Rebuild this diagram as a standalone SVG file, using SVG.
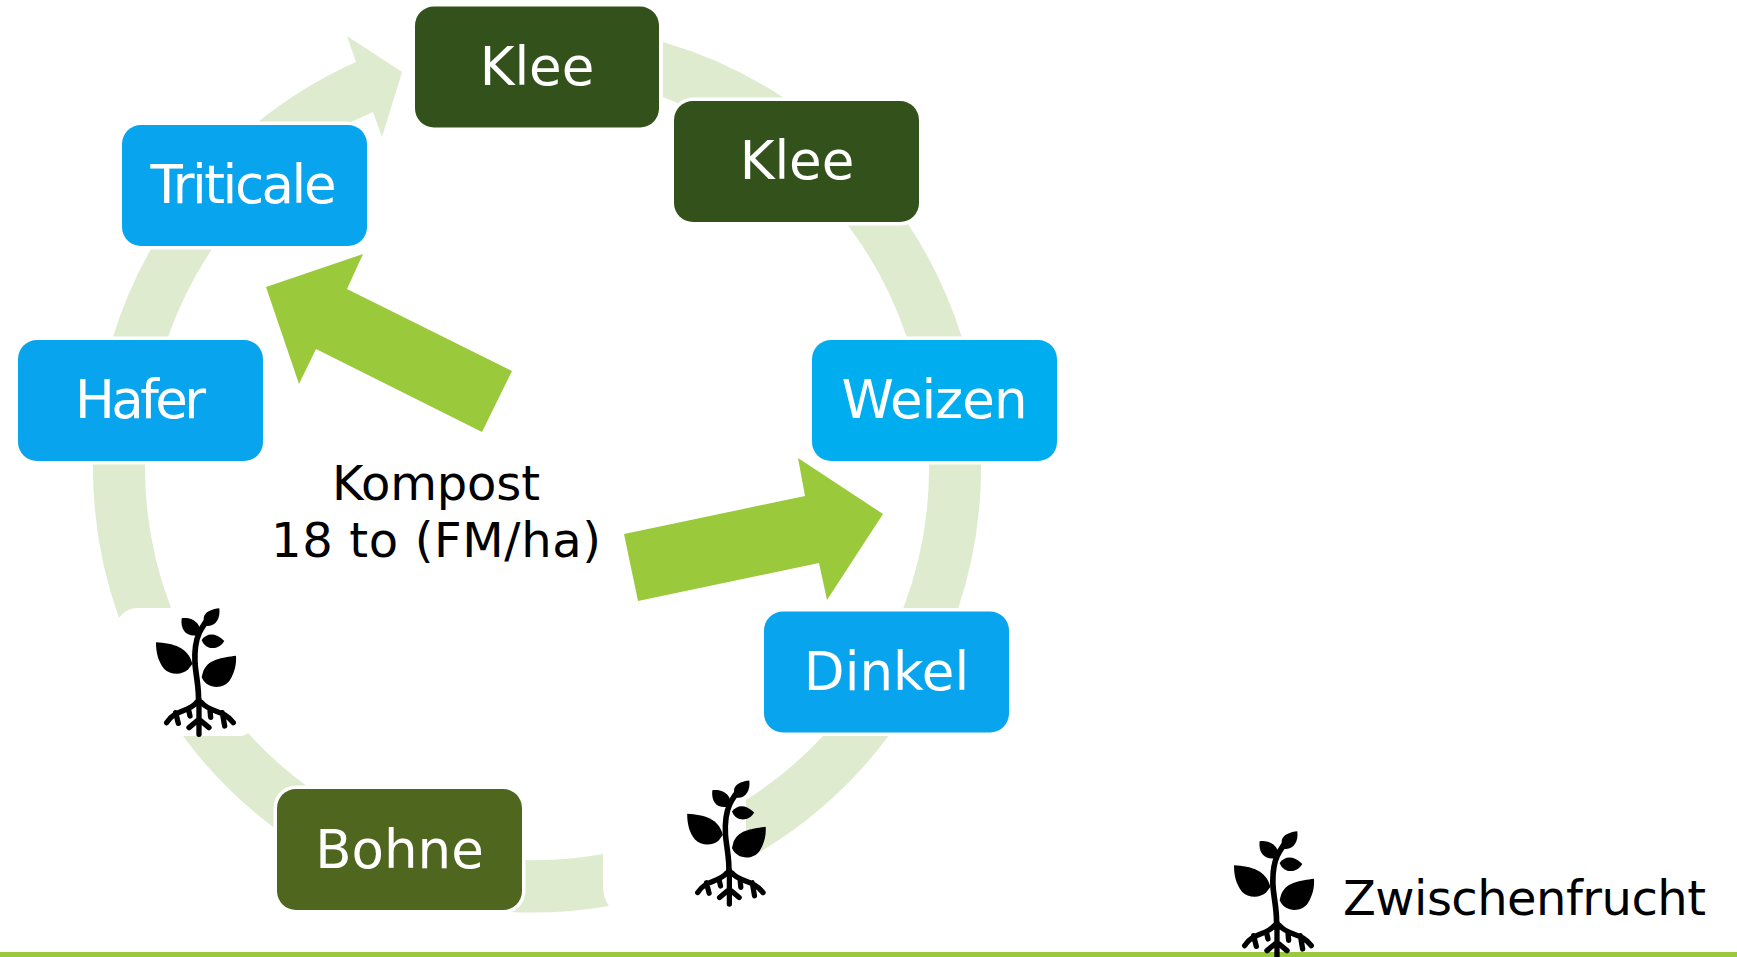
<svg xmlns="http://www.w3.org/2000/svg" width="1737" height="957" viewBox="0 0 1737 957">
<style>
.seg{fill:#DEEBCF}
.big{fill:#9ACA3C}
.n{stroke:#fff;stroke-width:7;paint-order:stroke}
.t{font-family:"DejaVu Sans",Verdana,sans-serif;font-size:53px;fill:#fff;text-anchor:middle}
.k{font-family:"DejaVu Sans",Verdana,sans-serif;font-size:48px;fill:#000}
.s{fill:none;stroke:#000;stroke-linecap:round;stroke-linejoin:round}
</style>
<defs>
<g id="plant">
<path d="M437 197C422 170 435 150 478 145C482 178 465 202 437 197Z"/>
<path d="M365 175C400 170 428 195 418 224C385 234 360 215 365 175Z"/>
<path d="M425 240C440 220 465 216 493 243C478 270 438 274 425 240Z"/>
<path d="M288 247C340 250 385 262 397 312L385 328C365 347 330 345 312 326C295 305 288 280 288 247Z"/>
<path d="M528 287C490 293 440 295 428 340L425 352C440 388 490 390 510 360C525 335 530 310 528 287Z"/>
<path class="s" stroke-width="17" d="M415 430C419 390 408 350 405 310C403 270 408 240 418 218C424 205 430 197 438 185"/>
<path class="s" stroke-width="16" d="M417 420V523M409 428C385 458 345 448 320 488M347 458L355 490M385 446L390 468M425 428C450 458 490 448 520 488M487 458L494 498M450 450L452 472M417 478L387 503M417 478L447 503"/>
</g>
</defs>
<rect width="1737" height="957" fill="#fff"/>
<rect x="0" y="952" width="1737" height="5" fill="#9ACA3C"/>
<g id="connectors">
<path class="seg" d="M258 122A444 444 0 0 1 356 62L347 36L402 72L382 137L373 112Q362 117 351 122Z"/>
<path class="seg" d="M663 42A444 444 0 0 1 787 100L680 104L663 97Z"/>
<path class="seg" d="M847 224H908A444 444 0 0 1 962 338H907A392 392 0 0 0 847 224Z"/>
<path class="seg" d="M929 463H981A444 444 0 0 1 958 609H903A392 392 0 0 0 929 463Z"/>
<path class="seg" d="M825 734H890A444 444 0 0 1 757 853.6L746 840V800A392 392 0 0 0 825 734Z"/>
<path class="seg" d="M510 912L510 859.5A392 392 0 0 0 603 854V885Q603 898 609 906A444 444 0 0 1 510 912Z"/>
<path class="seg" d="M183 736H240Q245 736 248 733A392 392 0 0 0 312 790L273 827A444 444 0 0 1 183 736Z"/>
<path class="seg" d="M93 463H145A392 392 0 0 0 171 608H137Q126 608 119 618A444 444 0 0 1 93 463Z"/>
<path class="seg" d="M151 249H212A392 392 0 0 0 168 337H113A444 444 0 0 1 151 249Z"/>
<path class="big" d="M266 287L363 254L347 289L512 371L482 432L316 349L299 384Z"/>
<path class="big" d="M624 534L805 496L798 458L883 514L827 600L819 563L638 601Z"/>
</g>
<g id="klee1"><rect class="n" x="415" y="6.500" width="244" height="121" rx="19" fill="#33521B"/><text class="t" x="537" y="85">Klee</text></g>
<g id="klee2"><rect class="n" x="674" y="101" width="245" height="121" rx="19" fill="#33521B"/><text class="t" x="797" y="179">Klee</text></g>
<g id="weizen"><rect class="n" x="812" y="340" width="245" height="121" rx="19" fill="#00AEEF"/><text class="t" x="934.500" y="418" textLength="186">Weizen</text></g>
<g id="dinkel"><rect class="n" x="764" y="611.500" width="245" height="121" rx="19" fill="#08A4EE"/><text class="t" x="886.500" y="690">Dinkel</text></g>
<g id="bohne"><rect class="n" x="277" y="789" width="245" height="121" rx="19" fill="#4E661E"/><text class="t" x="399.500" y="868">Bohne</text></g>
<g id="hafer"><rect class="n" x="18" y="340" width="245" height="121" rx="19" fill="#08A4EE"/><text class="t" x="140.500" y="418" textLength="131">Hafer</text></g>
<g id="triticale"><rect class="n" x="122" y="125" width="245" height="121" rx="19" fill="#08A4EE"/><text class="t" x="243.500" y="203" textLength="186">Triticale</text></g>
<g id="kompost"><text class="k" x="436" y="500" text-anchor="middle" textLength="208">Kompost</text><text class="k" x="436" y="557" text-anchor="middle" textLength="330">18 to (FM/ha)</text></g>
<g id="plant1"><use href="#plant" transform="translate(60 560) scale(.3333)"/></g>
<g id="plant2"><use href="#plant" transform="translate(593 733) scale(.327)"/></g>
<g id="plant3"><use href="#plant" transform="translate(1138 783) scale(.3333)"/></g>
<g id="legend"><text class="k" x="1343" y="915" textLength="363">Zwischenfrucht</text></g>
</svg>
